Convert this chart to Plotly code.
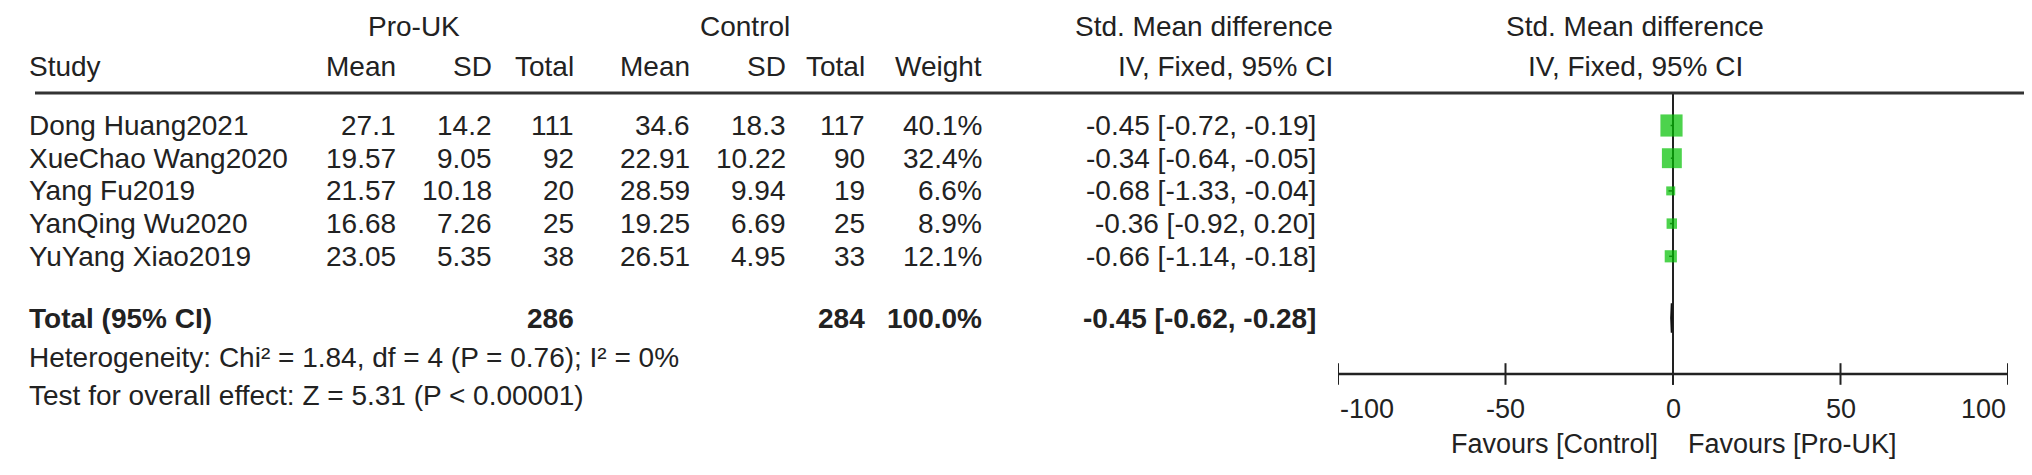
import plotly.graph_objects as go

# ---------------- data ----------------
studies = ["Dong Huang2021", "XueChao Wang2020", "Yang Fu2019", "YanQing Wu2020", "YuYang Xiao2019"]
pro_mean = [27.1, 19.57, 21.57, 16.68, 23.05]
pro_sd = [14.2, 9.05, 10.18, 7.26, 5.35]
pro_total = [111, 92, 20, 25, 38]
ctl_mean = [34.6, 22.91, 28.59, 19.25, 26.51]
ctl_sd = [18.3, 10.22, 9.94, 6.69, 4.95]
ctl_total = [117, 90, 19, 25, 33]
weight = [40.1, 32.4, 6.6, 8.9, 12.1]
smd = [-0.45, -0.34, -0.68, -0.36, -0.66]
ci_lo = [-0.72, -0.64, -1.33, -0.92, -1.14]
ci_hi = [-0.19, -0.05, -0.04, 0.20, -0.18]

total_label = "Total (95% CI)"
total_pro = 286
total_ctl = 284
total_weight = 100.0
total_smd = -0.45
total_lo = -0.62
total_hi = -0.28

het_text = "Heterogeneity: Chi² = 1.84, df = 4 (P = 0.76); I² = 0%"
test_text = "Test for overall effect: Z = 5.31 (P < 0.00001)"

axis_ticks = [-100, -50, 0, 50, 100]
favours_left = "Favours [Control]"
favours_right = "Favours [Pro-UK]"

# ---------------- layout constants (pixels / rows) ----------------
W, H = 2032, 475
ROW0_PX, ROW_PX = 117.5, 32.7
FONT = "Liberation Sans, Arial, Helvetica, sans-serif"
FS = 28
TXT = "#222222"
GREEN = "#00C000"

def row_of(px):
    return (px - ROW0_PX) / ROW_PX

col = dict(study=19, pro_mean=390, pro_sd=486, pro_tot=568, ctl_mean=684, ctl_sd=780,
           ctl_tot=859, weight=976, ci=1310, ci_head=1327)
pro_center = 406
ctl_center = 737
forest_left, forest_right = 1330, 2000
forest_center_px = 1627

hdr1 = row_of(18)
hdr2 = row_of(58)
line_row = row_of(85)
total_row = row_of(310)
het_row = row_of(349)
test_row = row_of(387)
axis_row = row_of(366)
ticklab_row = row_of(401)
fav_row = row_of(436)
tick_half = 0.33

fig = go.Figure()
ann = []

def add_text(x, y, text, anchor="right", bold=False, xref="x", size=FS):
    ann.append(dict(x=x, y=y, xref=xref, yref="y", text=f"<b>{text}</b>" if bold else text,
                    showarrow=False, xanchor=anchor, yanchor="middle",
                    font=dict(family=FONT, size=size, color=TXT)))

# headers
add_text(pro_center, hdr1, "Pro-UK", "center")
add_text(ctl_center, hdr1, "Control", "center")
add_text(col["ci_head"], hdr1, "Std. Mean difference", "right")
add_text(col["study"], hdr2, "Study", "left")
for key, lab in [("pro_mean", "Mean"), ("pro_sd", "SD"), ("pro_tot", "Total"),
                 ("ctl_mean", "Mean"), ("ctl_sd", "SD"), ("ctl_tot", "Total"), ("weight", "Weight")]:
    add_text(col[key], hdr2, lab, "right")
add_text(col["ci_head"], hdr2, "IV, Fixed, 95% CI", "right")
add_text(forest_center_px, hdr1, "Std. Mean difference", "center")
add_text(forest_center_px, hdr2, "IV, Fixed, 95% CI", "center")

# study rows
for i, s in enumerate(studies):
    add_text(col["study"], i, s, "left")
    add_text(col["pro_mean"], i, str(pro_mean[i]))
    add_text(col["pro_sd"], i, str(pro_sd[i]))
    add_text(col["pro_tot"], i, str(pro_total[i]))
    add_text(col["ctl_mean"], i, str(ctl_mean[i]))
    add_text(col["ctl_sd"], i, str(ctl_sd[i]))
    add_text(col["ctl_tot"], i, str(ctl_total[i]))
    add_text(col["weight"], i, f"{weight[i]:.1f}%")
    add_text(col["ci"], i, f"{smd[i]:.2f} [{ci_lo[i]:.2f}, {ci_hi[i]:.2f}]")

# total row
add_text(col["study"], total_row, total_label, "left", bold=True)
add_text(col["pro_tot"], total_row, str(total_pro), bold=True)
add_text(col["ctl_tot"], total_row, str(total_ctl), bold=True)
add_text(col["weight"], total_row, f"{total_weight:.1f}%", bold=True)
add_text(col["ci"], total_row, f"{total_smd:.2f} [{total_lo:.2f}, {total_hi:.2f}]", bold=True)
add_text(col["study"], het_row, het_text, "left")
add_text(col["study"], test_row, test_text, "left")

# forest: zero line
fig.add_trace(go.Scatter(x=[0, 0], y=[line_row, axis_row + tick_half], xaxis="x2", yaxis="y",
                         mode="lines", line=dict(color="#222", width=2), hoverinfo="skip"))
# axis line and ticks
fig.add_trace(go.Scatter(x=[axis_ticks[0], axis_ticks[-1]], y=[axis_row, axis_row], xaxis="x2", yaxis="y",
                         mode="lines", line=dict(color="#222", width=2.5), hoverinfo="skip"))
tx, ty = [], []
for t in axis_ticks:
    tx += [t, t, None]
    ty += [axis_row - tick_half, axis_row + tick_half, None]
fig.add_trace(go.Scatter(x=tx, y=ty, xaxis="x2", yaxis="y", mode="lines",
                         line=dict(color="#222", width=2), hoverinfo="skip"))
for j, t in enumerate(axis_ticks):
    anchor = "left" if j == 0 else ("right" if j == len(axis_ticks) - 1 else "center")
    ann.append(dict(x=t, y=ticklab_row, xref="x2", yref="y", text=str(t), showarrow=False,
                    xanchor=anchor, yanchor="middle", font=dict(family=FONT, size=27, color=TXT)))
ann.append(dict(x=-4, y=fav_row, xref="x2", yref="y", text=favours_left, showarrow=False,
                xanchor="right", yanchor="middle", font=dict(family=FONT, size=27, color=TXT)))
ann.append(dict(x=4, y=fav_row, xref="x2", yref="y", text=favours_right, showarrow=False,
                xanchor="left", yanchor="middle", font=dict(family=FONT, size=27, color=TXT)))

# study squares with CI
fig.add_trace(go.Scatter(
    x=smd, y=list(range(len(studies))), xaxis="x2", yaxis="y", mode="markers",
    marker=dict(symbol="square", color=GREEN, size=[3.5 * w ** 0.5 for w in weight], line=dict(width=0)),
    error_x=dict(type="data", symmetric=False,
                 array=[h - m for h, m in zip(ci_hi, smd)],
                 arrayminus=[m - l for m, l in zip(smd, ci_lo)],
                 color="#222", thickness=1.5, width=0),
    hoverinfo="skip"))

# total diamond
dh = 0.45
fig.add_trace(go.Scatter(x=[total_lo, total_smd, total_hi, total_smd, total_lo],
                         y=[total_row, total_row - dh, total_row, total_row + dh, total_row],
                         xaxis="x2", yaxis="y", mode="lines", fill="toself",
                         fillcolor="#111", line=dict(color="#111", width=1.5), hoverinfo="skip"))

fig.update_layout(
    width=W, height=H, margin=dict(l=0, r=0, t=0, b=0),
    paper_bgcolor="white", plot_bgcolor="white", showlegend=False,
    xaxis=dict(range=[0, W], domain=[0, 1], visible=False, fixedrange=True),
    xaxis2=dict(range=[axis_ticks[0], axis_ticks[-1]], domain=[forest_left / W, forest_right / W],
                anchor="y", visible=False, fixedrange=True),
    yaxis=dict(range=[row_of(H), row_of(0)], domain=[0, 1], visible=False, fixedrange=True),
    annotations=ann,
    shapes=[dict(type="line", xref="paper", yref="y", x0=27 / W, x1=2023 / W,
                 y0=line_row, y1=line_row, line=dict(color="#333", width=3))],
)

fig.write_html("out.html")
